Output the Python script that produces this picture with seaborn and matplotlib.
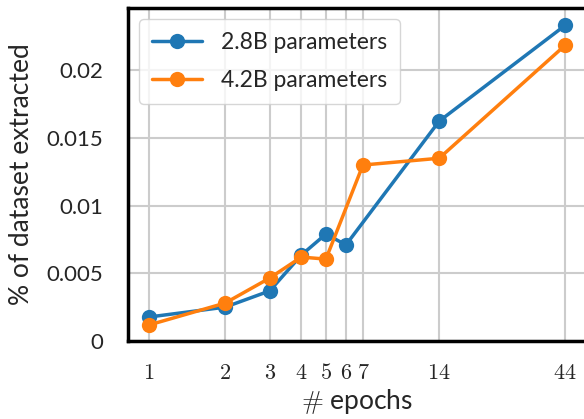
import numpy as np
import pandas as pd
import matplotlib
matplotlib.use("Agg")
import matplotlib.pyplot as plt
import matplotlib.ticker as mticker
import seaborn as sns

# values
epochs_28b = [1, 2, 3, 4, 5, 6, 14, 44]
extracted_28b = [0.00177, 0.0025, 0.0037, 0.00635, 0.0079, 0.0071, 0.01624, 0.02332]
epochs_42b = [1, 2, 3, 4, 5, 7, 14, 44]
extracted_42b = [0.00118, 0.0028, 0.00465, 0.0062, 0.00605, 0.0130, 0.0135, 0.02185]
series_names = ["2.8B parameters", "4.2B parameters"]
xtick_values = [1, 2, 3, 4, 5, 6, 7, 14, 44]
ytick_values = [0, 0.005, 0.01, 0.015, 0.02]

df = pd.concat([
    pd.DataFrame({"epochs": epochs_28b, "extracted": extracted_28b, "model": series_names[0]}),
    pd.DataFrame({"epochs": epochs_42b, "extracted": extracted_42b, "model": series_names[1]}),
])

sns.set_theme(style="whitegrid")
plt.rcParams["font.family"] = ["Lato", "DejaVu Sans"]
plt.rcParams["mathtext.fontset"] = "cm"

fig = plt.figure(figsize=(5.84, 4.19), dpi=100)
ax = fig.add_axes([128 / 584, 78 / 419, 458 / 584, 333 / 419])

sns.lineplot(data=df, x="epochs", y="extracted", hue="model",
             palette=["#1f77b4", "#ff7f0e"], marker="o", markersize=11,
             markeredgewidth=0, linewidth=2.5, ax=ax)

ax.set_xscale("log")
ax.xaxis.set_major_locator(mticker.FixedLocator(xtick_values))
ax.xaxis.set_major_formatter(mticker.FixedFormatter([r"$%d$" % v for v in xtick_values]))
ax.xaxis.set_minor_locator(mticker.NullLocator())
ax.set_yticks(ytick_values)
ax.yaxis.set_major_formatter(mticker.FuncFormatter(lambda v, p: "%g" % v))
ax.set_ylim(0, 0.0246)

ax.grid(True, color="#cccccc", linewidth=1.5)
for s in ax.spines.values():
    s.set_color("black")
    s.set_linewidth(2.5)

ax.tick_params(axis="x", labelsize=16, pad=10, colors="#262626")
ax.tick_params(axis="y", labelsize=16, pad=12, colors="#262626")
ax.set_xlabel(r"$\#$ epochs", fontsize=19, color="#262626", labelpad=3)
ax.set_ylabel("% of dataset extracted", fontsize=19, color="#262626", labelpad=9)

ax.legend(loc="upper left", fontsize=16.5, frameon=True, borderaxespad=0.5,
          handlelength=2.2, labelspacing=0.75, borderpad=0.55)

fig.savefig("out.png", dpi=100)
